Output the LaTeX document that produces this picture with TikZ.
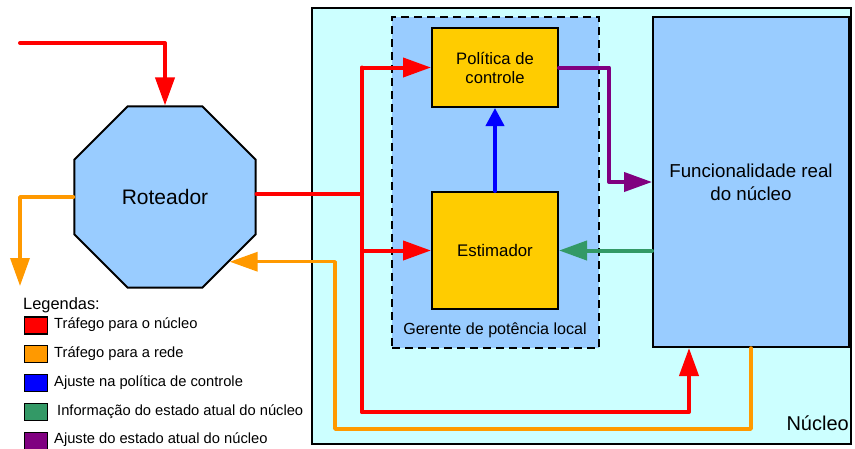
\documentclass[tikz,border=0pt]{standalone}
\usepackage{fontspec}
\setmainfont{Liberation Sans}
\usetikzlibrary{arrows.meta,shapes.geometric}
\definecolor{cyanbg}{HTML}{CCFFFF}
\definecolor{lblue}{HTML}{99CCFF}
\definecolor{yel}{HTML}{FFCC00}
\definecolor{cred}{HTML}{FF0000}
\definecolor{cor}{HTML}{FF9900}
\definecolor{cblue}{HTML}{0000FF}
\definecolor{cgreen}{HTML}{339966}
\definecolor{cpur}{HTML}{800080}
\tikzset{
  box/.style={draw=black, line width=2pt, inner sep=0pt, align=center},
  conn/.style={line width=4pt, line cap=round, line join=round},
  tip/.style={-{Triangle[length=28pt,width=19pt]}},
  shorttip/.style={-{Triangle[length=18pt,width=18pt]}},
  swatch/.style={draw=black, line width=1.5pt, minimum width=23pt, minimum height=17pt, inner sep=0pt},
  legtext/.style={anchor=west, inner sep=0pt, font=\fontsize{14.7}{17}\selectfont},
}
\begin{document}
\begin{tikzpicture}[x=1pt,y=-1pt]
\useasboundingbox (0,0) rectangle (855,448);
% outer core box
\node[box, fill=cyanbg, minimum width=539pt, minimum height=436pt] (nuc) at (581.5,226) {};
\node[anchor=east, inner sep=0pt, font=\fontsize{20}{24}\selectfont] (nuclbl) at (849,423) {Núcleo};
% local power manager
\node[draw=black, line width=2.6pt, dash pattern=on 8pt off 5pt, fill=lblue, minimum width=207pt, minimum height=331pt, inner sep=0pt] (ger) at (495.5,182.5) {};
\node[inner sep=0pt, font=\fontsize{16.1}{19}\selectfont] (gerlbl) at (495,330) {Gerente de potência local};
% boxes
\node[box, fill=yel, minimum width=126pt, minimum height=79pt, font=\fontsize{16.6}{19}\selectfont] (pol) at (495,67.5) {Política de\\controle};
\node[box, fill=yel, minimum width=126pt, minimum height=117pt, font=\fontsize{16.8}{20}\selectfont] (est) at (495,250.5) {Estimador};
\node[box, fill=lblue, minimum width=196pt, minimum height=330pt, font=\fontsize{18.7}{22.7}\selectfont] (func) at (751,182) {Funcionalidade real\\do núcleo};
% router
\node[draw=black, line width=2pt, fill=lblue, regular polygon, regular polygon sides=8, minimum size=196pt, inner sep=0pt, font=\fontsize{21}{25}\selectfont] (rot) at (165,197) {Roteador};
% coordinates
\coordinate (rs) at (20,43);
\coordinate (j1) at (362,194);
\coordinate (rb) at (362,412);
\coordinate (ob) at (335,429);
\coordinate (ol) at (20,286);
\coordinate (redin) at ([xshift=37pt]func.south west);
% red traffic
\draw[conn, cred, tip] (rs) -| (rot.north);
\draw[conn, cred] (rot.east |- j1) -- (j1);
\draw[conn, cred] (j1 |- pol.west) -- (rb);
\draw[conn, cred, tip] (j1 |- pol.west) -- (pol.west);
\draw[conn, cred, tip] (j1 |- est.west) -- (est.west);
\draw[conn, cred, tip] (rb) -| (redin);
% orange traffic
\draw[conn, cor, line width=3.5pt, tip] (func.south) |- (ob) |- (rot.-45);
\draw[conn, cor, line width=3.5pt, tip] (rot.west) -| (ol);
% blue
\draw[conn, cblue, shorttip] (est.north) -- (pol.south);
% green
\draw[conn, cgreen, tip] (func.west |- est.east) -- (est.east);
% purple
\draw[conn, cpur, tip] (pol.east) -- ++(50,0) |- (func.west);
% legend
\node[anchor=west, inner sep=0pt, font=\fontsize{16.4}{19}\selectfont] (leg) at (23,305) {Legendas:};
\node[swatch, fill=cred] (s1) at (36,325.5) {};
\node[swatch, fill=cor] (s2) at (36,354) {};
\node[swatch, fill=cblue] (s3) at (36,383) {};
\node[swatch, fill=cgreen] (s4) at (36,412) {};
\node[swatch, fill=cpur] (s5) at (36,441) {};
\node[legtext] (t1) at (54,325) {Tráfego para o núcleo};
\node[legtext] (t2) at (54,354) {Tráfego para a rede};
\node[legtext] (t3) at (54,383) {Ajuste na política de controle};
\node[legtext] (t4) at (57,412) {Informação do estado atual do núcleo};
\node[legtext] (t5) at (54,440) {Ajuste do estado atual do núcleo};
\end{tikzpicture}
\end{document}
